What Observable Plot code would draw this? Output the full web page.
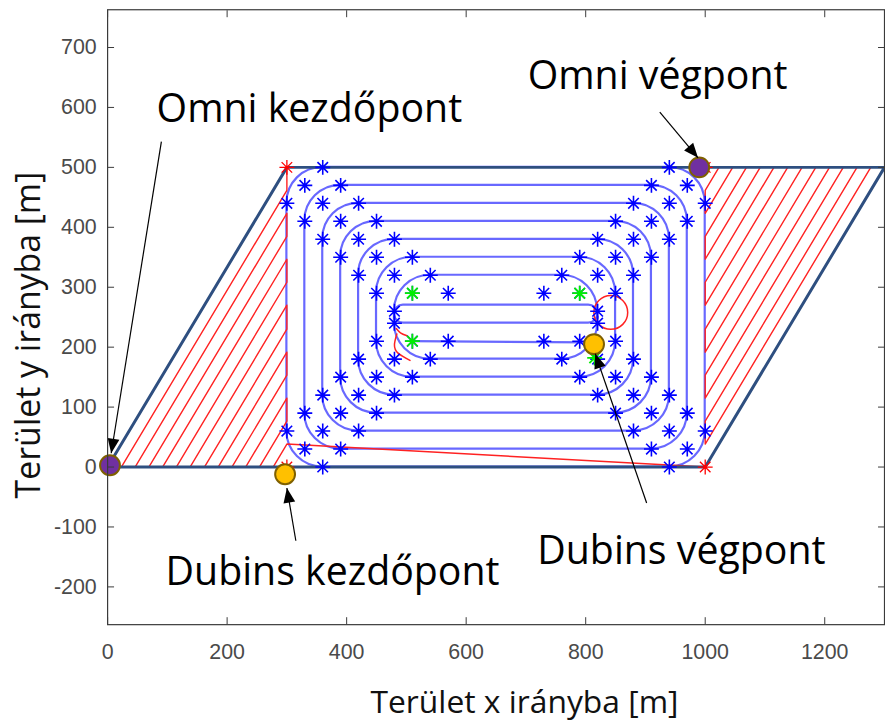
<!DOCTYPE html>
<html><head><meta charset="utf-8">
<script src="https://cdn.jsdelivr.net/npm/d3@7"></script>
<script src="https://cdn.jsdelivr.net/npm/@observablehq/plot@0.6"></script>
<style>
html,body{margin:0;padding:0;overflow:hidden;background:#fff;}
</style>
</head><body>
<div id="chart"></div>
<script>
// ---------------- data ----------------
const xTicks = [0, 200, 400, 600, 800, 1000, 1200];
const yTicks = [-200, -100, 0, 100, 200, 300, 400, 500, 600, 700];
const xDomain = [0, 1300];
const yDomain = [-263, 763];

// field boundary (parallelogram)
const boundaryX = [0, 300, 1300, 1000, 0];
const boundaryY = [0, 500, 500, 0, 0];

// omni (red) parallel passes: horizontal offsets of the hatch lines in both triangles
const hatchOffsets = [0, 23, 46, 69, 92, 115, 138, 162, 185, 208, 231, 254, 277];

// Dubins spiral rings (rounded rectangles)
const ringLeft   = [300, 330, 360, 390, 420, 450, 480];
const ringRight  = [1000, 970, 940, 910, 880, 850, 820];
const ringBottom = [0, 30, 60, 90, 120, 150, 180];
const ringTop    = [500, 470, 440, 410, 380, 350, 320];
// innermost loop and last lane
const innerLoopX = [480, 820];
const innerLoopY = [240, 270];
const lastLaneX = [510, 806];
const lastLaneY = [210, 208];

// waypoint stars at each ring corner (offsets from corner)
const cornerDx = [0, 30, 60];
const cornerDy = [60, 30, 0];
const extraStarsX = [570, 570, 730, 730];
const extraStarsY = [290, 210, 290, 210];
const greenStarsX = [510, 510, 790, 815];
const greenStarsY = [290, 210, 290, 182];
const redStarsX = [300, 1000, 300, 1000];
const redStarsY = [500, 0, 0, 500];

// red loops of the Dubins path
const loopCenterX = [842];
const loopCenterY = [258];
const redArc1X = [483, 490, 501];
const redArc1Y = [231, 224, 219];
const redArc2X = [484, 480, 486, 506];
const redArc2Y = [222, 204, 190, 178];

// start / end points
const omniPtsX = [4, 990];
const omniPtsY = [3, 500];
const dubinsPtsX = [297, 814];
const dubinsPtsY = [-12, 205];

// annotations
const labels = ["Omni kezdőpont", "Omni végpont", "Dubins kezdőpont", "Dubins végpont"];
const labelX = [82, 703, 97, 719];
const labelY = [576, 630, -197, -161];
const arrowX1 = [90, 924, 315, 902];
const arrowY1 = [543, 592, -123, -60];
const arrowX2 = [6, 988, 300, 816];
const arrowY2 = [23, 516, -35, 189];

const xLabel = "Terület x irányba [m]";
const yLabel = "Terület y irányba [m]";

// ---------------- tables ----------------
const boundary = boundaryX.map((x, i) => ({x, y: boundaryY[i]}));
const slope = (boundaryY[1] - boundaryY[0]) / (boundaryX[1] - boundaryX[0]);
const omni = [];
hatchOffsets.forEach((h, i) => {
  const bottom = {x: boundaryX[0] + h, y: 0};
  const top = {x: boundaryX[1], y: (boundaryX[1] - h) * slope};
  if (i % 2 === 0) omni.push(bottom, top); else omni.push(top, bottom);
});
hatchOffsets.forEach((d, j) => {
  const bottom = {x: boundaryX[3], y: d * slope};
  const top = {x: boundaryX[2] - d, y: boundaryY[2]};
  if (j % 2 === 0) omni.push(bottom, top); else omni.push(top, bottom);
});

const rings = ringLeft.map((l, i) => ({l, r: ringRight[i], b: ringBottom[i], t: ringTop[i]}));
const innerLoop = [{l: innerLoopX[0], r: innerLoopX[1], b: innerLoopY[0], t: innerLoopY[1]}];
const lastLane = lastLaneX.map((x, i) => ({x, y: lastLaneY[i]}));

const blueStars = [];
rings.forEach(({l, r, b, t}) => {
  for (let j = 0; j < 3; j++) {
    blueStars.push({x: l + cornerDx[j], y: t - cornerDy[j]});
    blueStars.push({x: r - cornerDx[j], y: t - cornerDy[j]});
    blueStars.push({x: l + cornerDx[j], y: b + cornerDy[j]});
    blueStars.push({x: r - cornerDx[j], y: b + cornerDy[j]});
  }
});
extraStarsX.forEach((x, i) => blueStars.push({x, y: extraStarsY[i]}));
const greenStars = greenStarsX.map((x, i) => ({x, y: greenStarsY[i]}));
const redStars = redStarsX.map((x, i) => ({x, y: redStarsY[i]}));
const loops = loopCenterX.map((x, i) => ({x, y: loopCenterY[i]}));
const arc1 = redArc1X.map((x, i) => ({x, y: redArc1Y[i]}));
const arc2 = redArc2X.map((x, i) => ({x, y: redArc2Y[i]}));
const omniPts = omniPtsX.map((x, i) => ({x, y: omniPtsY[i]}));
const dubinsPts = dubinsPtsX.map((x, i) => ({x, y: dubinsPtsY[i]}));
const notes = labels.map((text, i) => ({text, x: labelX[i], y: labelY[i]}));
const arrows = arrowX1.map((x1, i) => ({x1, y1: arrowY1[i], x2: arrowX2[i], y2: arrowY2[i],
  angle: Math.atan2(arrowX2[i] - x1, arrowY2[i] - arrowY1[i]) * 180 / Math.PI}));

// ---------------- symbols ----------------
const asterisk = {
  draw(ctx, size) {
    const r = Math.sqrt(size / Math.PI);
    const d = r * Math.SQRT1_2;
    ctx.moveTo(-r, 0); ctx.lineTo(r, 0);
    ctx.moveTo(0, -r); ctx.lineTo(0, r);
    ctx.moveTo(-d, -d); ctx.lineTo(d, d);
    ctx.moveTo(-d, d); ctx.lineTo(d, -d);
  }
};
const arrowHead = {
  draw(ctx, size) {
    const s = Math.sqrt(size / Math.PI);
    ctx.moveTo(0, 0);
    ctx.lineTo(-0.85 * s, 2.1 * s);
    ctx.lineTo(0.85 * s, 2.1 * s);
    ctx.closePath();
  }
};

// ---------------- plot ----------------
const blue = "#4d4dff";
const red = "#ff2222";
const textFont = "'Open Sans', 'Noto Sans', sans-serif";

const chart = Plot.plot({
  width: 890,
  height: 726,
  marginLeft: 107.7,
  marginRight: 1,
  marginTop: 9.3,
  marginBottom: 98.3,
  x: {domain: xDomain},
  y: {domain: yDomain},
  style: {fontFamily: "'Liberation Sans', Arial, sans-serif", background: "#fff", overflow: "hidden"},
  marks: [
    // Dubins spiral
    Plot.rect(rings, {x1: "l", x2: "r", y1: "b", y2: "t", rx: 36, fill: "none", stroke: blue, strokeWidth: 2.2, strokeOpacity: 0.85}),
    Plot.rect(innerLoop, {x1: "l", x2: "r", y1: "b", y2: "t", rx: 9, fill: "none", stroke: blue, strokeWidth: 2.2, strokeOpacity: 0.85}),
    Plot.line(lastLane, {x: "x", y: "y", stroke: blue, strokeWidth: 2.2, strokeOpacity: 0.85}),
    // Omni path (red hatch)
    Plot.line(omni, {x: "x", y: "y", stroke: red, strokeWidth: 1.4}),
    // red loops
    Plot.dot(loops, {x: "x", y: "y", r: 17, fill: "none", stroke: red, strokeWidth: 1.5}),
    Plot.line(arc1, {x: "x", y: "y", curve: "natural", stroke: red, strokeWidth: 1.5}),
    Plot.line(arc2, {x: "x", y: "y", curve: "natural", stroke: red, strokeWidth: 1.5}),
    // boundary
    Plot.line(boundary, {x: "x", y: "y", stroke: "#2e4f80", strokeWidth: 3}),
    // stars
    Plot.dot(blueStars, {x: "x", y: "y", symbol: asterisk, r: 7.5, fill: "none", stroke: "#0000ff", strokeWidth: 1.6}),
    Plot.dot(greenStars, {x: "x", y: "y", symbol: asterisk, r: 7.5, fill: "none", stroke: "#00ee00", strokeWidth: 1.8}),
    Plot.dot(redStars, {x: "x", y: "y", symbol: asterisk, r: 7.5, fill: "none", stroke: "#ff0000", strokeWidth: 1.3}),
    // start / end markers
    Plot.dot(omniPts, {x: "x", y: "y", r: 10, fill: "#7030a0", stroke: "#7f6000", strokeWidth: 2}),
    Plot.dot(dubinsPts, {x: "x", y: "y", r: 10, fill: "#ffc000", stroke: "#7f6000", strokeWidth: 2}),
    // arrows
    Plot.link(arrows, {x1: "x1", y1: "y1", x2: "x2", y2: "y2", stroke: "#000", strokeWidth: 1.2}),
    Plot.dot(arrows, {x: "x2", y: "y2", symbol: arrowHead, r: 7, rotate: "angle", fill: "#000", stroke: "none"}),
    // annotation texts
    Plot.text(notes, {x: "x", y: "y", text: "text", textAnchor: "start", lineAnchor: "bottom", fontSize: 39.5, fontFamily: textFont, fill: "#000"}),
    // frame and axes
    Plot.frame({stroke: "#3a3a3a", strokeWidth: 1.2}),
    Plot.axisX({anchor: "bottom", ticks: xTicks, tickSize: -7, tickPadding: 26.3, fontSize: 21.5, fill: "#4a4a4a", stroke: "#3a3a3a", tickFormat: d => String(d), label: null}),
    Plot.axisX({anchor: "top", ticks: xTicks, tickSize: -7, stroke: "#3a3a3a", tickFormat: () => "", label: null}),
    Plot.axisY({anchor: "left", ticks: yTicks, tickSize: -7, tickPadding: 18, fontSize: 21.5, fill: "#4a4a4a", stroke: "#3a3a3a", tickFormat: d => String(d), label: null}),
    Plot.axisY({anchor: "right", ticks: yTicks, tickSize: -7, stroke: "#3a3a3a", tickFormat: () => "", label: null}),
    // axis labels
    Plot.text([xLabel], {frameAnchor: "bottom", textAnchor: "middle", dx: 28.6, dy: 89, lineAnchor: "bottom", fontSize: 32, fontFamily: textFont, fill: "#111"}),
    Plot.text([yLabel], {frameAnchor: "left", textAnchor: "middle", rotate: -90, dx: -67.7, dy: 18, lineAnchor: "bottom", fontSize: 34, fontFamily: textFont, fill: "#111"})
  ]
});
document.getElementById("chart").appendChild(chart);
</script>
</body></html>
